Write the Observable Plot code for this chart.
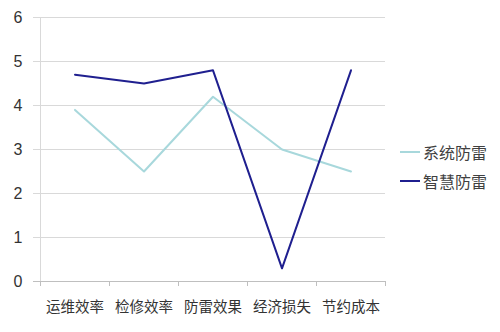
<!DOCTYPE html>
<html>
<head>
<meta charset="utf-8">
<script src="https://cdn.jsdelivr.net/npm/d3@7"></script>
<script src="https://cdn.jsdelivr.net/npm/@observablehq/plot@0.6"></script>
<style>
  html, body { margin: 0; padding: 0; background: #fff; }
  #wrap { position: relative; width: 500px; height: 332px; font-family: "Liberation Sans", "Noto Sans CJK SC", sans-serif; }
  #legend { position: absolute; left: 400px; top: 137.5px; font-size: 16px; color: #404040; font-family: "Noto Sans CJK SC", sans-serif; }
  .item { display: flex; align-items: center; height: 29px; }
  .item svg { margin-right: 3px; }
</style>
</head>
<body>
<div id="wrap"></div>
<script>
const categories = ["运维效率", "检修效率", "防雷效果", "经济损失", "节约成本"];
const seriesNames = ["系统防雷", "智慧防雷"];
const seriesColors = ["#a8d8dc", "#1f1f8f"];
const systemValues = [3.9, 2.5, 4.2, 3.0, 2.5];
const smartValues = [4.7, 4.5, 4.8, 0.3, 4.8];
const yTicks = [0, 1, 2, 3, 4, 5, 6];

const rows = [];
[systemValues, smartValues].forEach((vals, s) => {
  vals.forEach((v, i) => rows.push({series: seriesNames[s], idx: i + 0.5, value: v}));
});
const centers = categories.map((c, i) => i + 0.5);
const bounds = d3.range(categories.length + 1);

const chart = Plot.plot({
  width: 500,
  height: 332,
  marginLeft: 40,
  marginRight: 115,
  marginTop: 17,
  marginBottom: 51,
  style: {fontFamily: '"Liberation Sans", "Noto Sans CJK SC", sans-serif', background: "#fff"},
  x: {type: "linear", domain: [0, categories.length], axis: null},
  y: {domain: [0, 6], axis: null},
  color: {domain: seriesNames, range: seriesColors},
  marks: [
    Plot.ruleY(yTicks.filter(d => d > 0), {y: d => d, stroke: "#d9d9d9", strokeWidth: 1, insetLeft: -7}),
    Plot.ruleX([0], {stroke: "#d9d9d9"}),
    Plot.ruleY([0], {stroke: "#bfbfbf", strokeWidth: 1.2, insetLeft: -7}),
    Plot.axisX(bounds, {tickSize: 5, tickFormat: () => "", stroke: "#bfbfbf", label: null}),
    Plot.axisX(centers, {tickSize: 0, tickPadding: 20, tickFormat: (d) => categories[Math.round(d - 0.5)], fontSize: 14.5, fill: "#333", fontFamily: '"Noto Sans CJK SC", sans-serif', label: null}),
    Plot.axisY(yTicks, {tickSize: 0, tickPadding: 18, fontSize: 16, fill: "#333", label: null}),
    Plot.line(rows, {x: "idx", y: "value", z: "series", stroke: "series", strokeWidth: 2})
  ]
});
document.getElementById("wrap").appendChild(chart);

const legend = document.createElement("div");
legend.id = "legend";
seriesNames.forEach((name, i) => {
  const item = document.createElement("div");
  item.className = "item";
  item.innerHTML = `<svg width="20" height="4"><line x1="0" x2="20" y1="2" y2="2" stroke="${seriesColors[i]}" stroke-width="2"/></svg><span>${name}</span>`;
  legend.appendChild(item);
});
document.getElementById("wrap").appendChild(legend);
</script>
</body>
</html>
